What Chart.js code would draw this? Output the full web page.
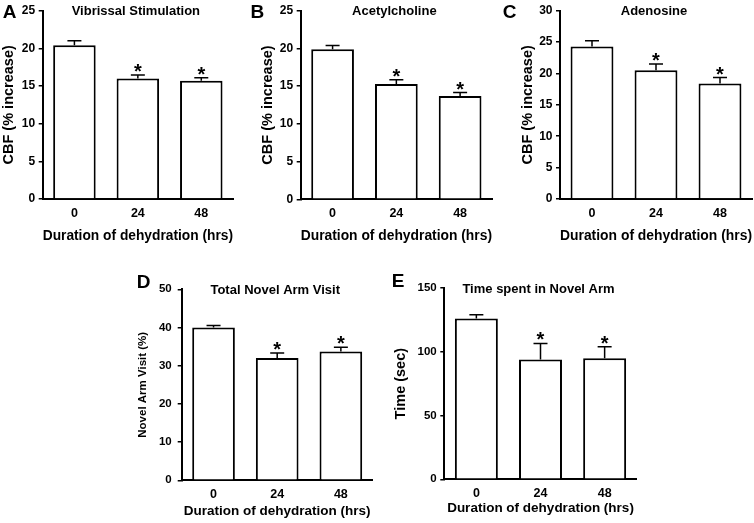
<!DOCTYPE html>
<html>
<head>
<meta charset="utf-8">
<script src="https://cdn.jsdelivr.net/npm/chart.js@4/dist/chart.umd.min.js"></script>
<style>
  body { margin: 0; background: #fff; }
  #wrap { position: relative; width: 754px; height: 523px; overflow: hidden; }
  canvas { position: absolute; }
</style>
</head>
<body>
<div id="wrap">
  <canvas id="chartA" width="252" height="246" style="left:0px;top:0px"></canvas>
  <canvas id="chartB" width="250" height="246" style="left:250px;top:0px"></canvas>
  <canvas id="chartC" width="254" height="246" style="left:500px;top:0px"></canvas>
  <canvas id="chartD" width="268" height="261" style="left:134px;top:262px"></canvas>
  <canvas id="chartE" width="262" height="261" style="left:388px;top:262px"></canvas>
</div>
<script>
// dados (media e erro padrao)
const categories = ['0', '24', '48'];
const starred = [false, true, true];

const vibrissalMean = [20.4, 16.0, 15.7];
const vibrissalSem = [0.6, 0.45, 0.4];

const acetylMean = [19.9, 15.3, 13.7];
const acetylSem = [0.5, 0.55, 0.45];

const adenosineMean = [24.3, 20.5, 18.4];
const adenosineSem = [0.9, 1.0, 0.95];

const armVisitMean = [40.0, 32.0, 33.7];
const armVisitSem = [0.5, 1.3, 1.1];

const armTimeMean = [126, 94, 95];
const armTimeSem = [3, 12.5, 9];

const xTitle = 'Duration of dehydration (hrs)';
const FONT = 'Liberation Sans, Arial, Helvetica, sans-serif';

// barras de erro, asteriscos, letra e titulo do painel
const painelPlugin = {
  id: 'painel',
  afterDatasetsDraw(chart, args, opts) {
    const ctx = chart.ctx;
    const y = chart.scales.y;
    const meta = chart.getDatasetMeta(0);
    const area = chart.chartArea;
    ctx.save();
    ctx.strokeStyle = '#000';
    ctx.lineWidth = 1.5;
    meta.data.forEach((bar, i) => {
      const top = y.getPixelForValue(opts.mean[i] + opts.sem[i]);
      const base = y.getPixelForValue(opts.mean[i]);
      ctx.beginPath();
      ctx.moveTo(bar.x, base);
      ctx.lineTo(bar.x, top);
      ctx.moveTo(bar.x - 7, top);
      ctx.lineTo(bar.x + 7, top);
      ctx.stroke();
      if (starred[i]) {
        ctx.fillStyle = '#000';
        ctx.font = 'bold 20px ' + FONT;
        ctx.textAlign = 'center';
        ctx.textBaseline = 'alphabetic';
        ctx.fillText('*', bar.x, top + 3);
      }
    });
    ctx.fillStyle = '#000';
    ctx.font = 'bold 19px ' + FONT;
    ctx.textAlign = 'left';
    ctx.textBaseline = 'alphabetic';
    ctx.fillText(opts.letter, opts.letterX, opts.letterY);
    ctx.font = 'bold 13px ' + FONT;
    ctx.textAlign = 'center';
    ctx.textBaseline = 'middle';
    ctx.fillText(opts.title, (area.left + area.right) / 2 - 2, area.top + 1);
    ctx.restore();
  }
};

function criarPainel(id, cfg) {
  const ctx = document.getElementById(id).getContext('2d');
  return new Chart(ctx, {
    type: 'bar',
    data: {
      labels: categories,
      datasets: [{
        data: cfg.mean,
        backgroundColor: '#fff',
        borderColor: '#000',
        borderWidth: 2,
        categoryPercentage: 1,
        barPercentage: 0.67
      }]
    },
    options: {
      responsive: false,
      animation: false,
      devicePixelRatio: 1,
      layout: { padding: { top: cfg.padTop, right: cfg.padRight, left: 0, bottom: 0 } },
      plugins: {
        legend: { display: false },
        tooltip: { enabled: false },
        painel: {
          letter: cfg.letter, letterX: cfg.letterX, letterY: cfg.letterY,
          title: cfg.title, mean: cfg.mean, sem: cfg.sem
        }
      },
      scales: {
        x: {
          afterFit: (s) => { s.height = cfg.xHeight; },
          grid: { display: false, drawTicks: false },
          border: { color: '#000', width: 2 },
          ticks: { color: '#000', padding: 7, font: { family: FONT, size: 12.5, weight: 'bold' } },
          title: {
            display: true, text: xTitle, color: '#000',
            padding: { top: 0, bottom: cfg.xTitlePad },
            font: { family: FONT, size: cfg.xTitleSize, weight: 'bold' }
          }
        },
        y: {
          min: 0,
          max: cfg.max,
          afterFit: (s) => { s.width = cfg.yWidth; },
          grid: { drawOnChartArea: false, drawTicks: true, tickLength: 4, color: '#000', lineWidth: 1.5 },
          border: { color: '#000', width: 2 },
          ticks: {
            stepSize: cfg.step, color: '#000', padding: cfg.tickPad,
            font: { family: FONT, size: cfg.tickSize, weight: 'bold' }
          },
          title: {
            display: true, text: cfg.yTitle, color: '#000',
            padding: { top: cfg.yTitlePad, bottom: 0 },
            font: { family: FONT, size: cfg.yTitleSize, weight: 'bold' }
          }
        }
      }
    },
    plugins: [painelPlugin]
  });
}

criarPainel('chartA', {
  letter: 'A', letterX: 2.7, letterY: 18.3, title: 'Vibrissal Stimulation',
  mean: vibrissalMean, sem: vibrissalSem, max: 25, step: 5,
  padTop: 7, padRight: 19, yWidth: 42.7, xHeight: 47,
  xTitleSize: 14.5, xTitlePad: 1, tickSize: 12, tickPad: 3.5,
  yTitle: 'CBF (% increase)', yTitleSize: 14.5, yTitlePad: 0
});

criarPainel('chartB', {
  letter: 'B', letterX: 0.5, letterY: 18.3, title: 'Acetylcholine',
  mean: acetylMean, sem: acetylSem, max: 25, step: 5,
  padTop: 6.7, padRight: 8, yWidth: 50.7, xHeight: 46.7,
  xTitleSize: 14.5, xTitlePad: 1, tickSize: 12, tickPad: 3.5,
  yTitle: 'CBF (% increase)', yTitleSize: 14.5, yTitlePad: 9
});

criarPainel('chartC', {
  letter: 'C', letterX: 2.7, letterY: 18.3, title: 'Adenosine',
  mean: adenosineMean, sem: adenosineSem, max: 30, step: 5,
  padTop: 6.7, padRight: 2, yWidth: 60, xHeight: 47,
  xTitleSize: 14.5, xTitlePad: 1, tickSize: 12, tickPad: 3.5,
  yTitle: 'CBF (% increase)', yTitleSize: 14.5, yTitlePad: 19
});

criarPainel('chartD', {
  letter: 'D', letterX: 2.7, letterY: 26, title: 'Total Novel Arm Visit',
  mean: armVisitMean, sem: armVisitSem, max: 50, step: 10,
  padTop: 27.3, padRight: 29.3, yWidth: 47.7, xHeight: 42.7,
  xTitleSize: 13.5, xTitlePad: 3.5, tickSize: 11.5, tickPad: 6,
  yTitle: 'Novel Arm Visit (%)', yTitleSize: 11.5, yTitlePad: 1.5
});

criarPainel('chartE', {
  letter: 'E', letterX: 3.7, letterY: 24.7, title: 'Time spent in Novel Arm',
  mean: armTimeMean, sem: armTimeSem, max: 150, step: 50,
  padTop: 26, padRight: 13.3, yWidth: 56.3, xHeight: 43.7,
  xTitleSize: 13.5, xTitlePad: 7, tickSize: 11.5, tickPad: 3.6,
  yTitle: 'Time (sec)', yTitleSize: 14.5, yTitlePad: 4
});
</script>
</body>
</html>
